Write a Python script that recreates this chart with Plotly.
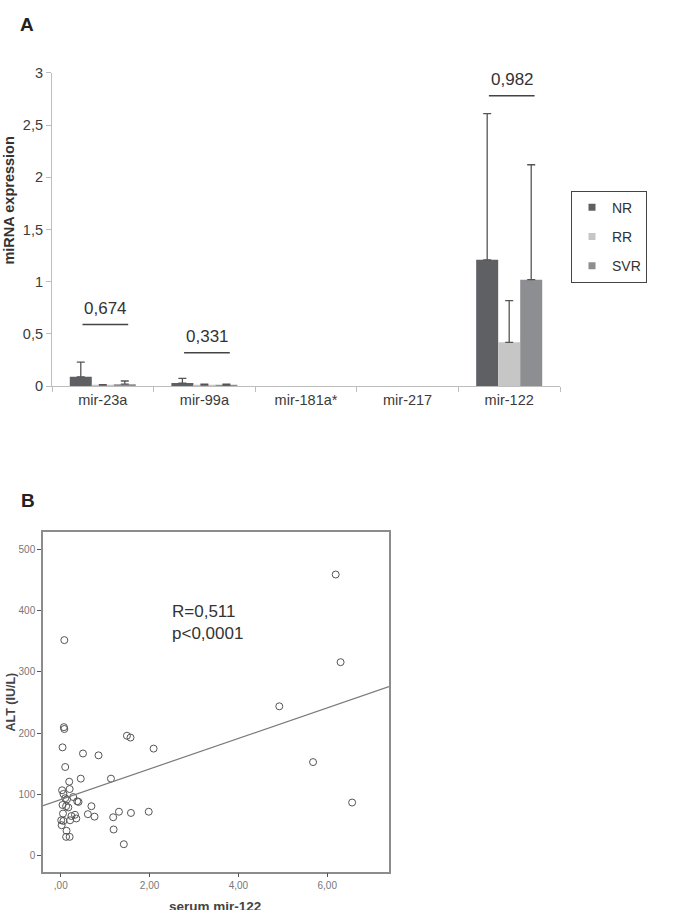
import plotly.graph_objects as go

# ---------------- Panel A data ----------------
categories = ["mir-23a", "mir-99a", "mir-181a*", "mir-217", "mir-122"]
groups = ["NR", "RR", "SVR"]
nr_values = [0.09, 0.03, None, None, 1.21]
rr_values = [0.01, 0.01, None, None, 0.42]
svr_values = [0.02, 0.01, None, None, 1.02]
nr_err = [0.14, 0.045, None, None, 1.40]
rr_err = [0.005, 0.01, None, None, 0.40]
svr_err = [0.03, 0.01, None, None, 1.10]
p_labels = ["0,674", "0,331", None, None, "0,982"]
p_line_heights = [0.59, 0.32, None, None, 2.78]
y_ticks_a = [0, 0.5, 1, 1.5, 2, 2.5, 3]
y_ticktext_a = ["0", "0,5", "1", "1,5", "2", "2,5", "3"]

# ---------------- Panel B data ----------------
serum_mir122 = [0.08, 6.19, 6.30, 4.92, 5.68, 6.56,
                0.07, 0.08, 0.04, 0.10, 0.50, 0.85,
                1.49, 1.57, 2.09, 0.19, 0.45, 1.13,
                0.20, 0.03, 0.06, 0.10, 0.14, 0.28,
                0.37, 0.40, 0.04, 0.12, 0.17, 0.69,
                0.05, 0.24, 0.32, 0.35, 0.21, 0.01, 0.06,
                0.61, 0.76, 1.18, 1.31, 1.58, 1.98,
                1.19, 1.42, 0.02, 0.13, 0.12, 0.20]
alt_values = [352, 459, 316, 244, 153, 87,
              210, 207, 177, 145, 167, 164,
              196, 193, 175, 121, 126, 126,
              109, 107, 101, 94, 92, 96,
              89, 88, 83, 81, 79, 81,
              69, 65, 67, 61, 58, 58, 57,
              68, 64, 63, 72, 70, 72,
              43, 19, 50, 41, 31, 31]
REG_INTERCEPT = 92.0
REG_SLOPE = 24.9
x_ticks_b = [0, 2, 4, 6]
x_ticktext_b = [",00", "2,00", "4,00", "6,00"]
y_ticks_b = [0, 100, 200, 300, 400, 500]
x_range_b = [-0.4, 7.39]
y_range_b = [-25.6, 529]

W, H = 697, 910
FONT = "Liberation Sans, Arial, sans-serif"
colors = {"NR": "#5f6064", "RR": "#c6c6c6", "SVR": "#8d8e91"}
err_color = "#555555"

fig = go.Figure()

series = [("NR", nr_values, nr_err), ("RR", rr_values, rr_err), ("SVR", svr_values, svr_err)]
for name, vals, errs in series:
    fig.add_trace(go.Bar(
        x=categories, y=vals, name=name, legendgroup=name, showlegend=False,
        marker=dict(color=colors[name], line=dict(width=0)),
        error_y=dict(type="data", symmetric=False, array=errs,
                     arrayminus=[0 if e is not None else None for e in errs],
                     color=err_color, thickness=1.3, width=4),
        xaxis="x", yaxis="y",
    ))
    # legend entry with a small square swatch (same series colour)
    fig.add_trace(go.Scatter(
        x=[None], y=[None], mode="markers", name=name, legendgroup=name,
        marker=dict(symbol="square", size=7, color=colors[name]),
        xaxis="x", yaxis="y",
    ))

# significance lines and labels
for i, (lab, h) in enumerate(zip(p_labels, p_line_heights)):
    if lab is None:
        continue
    fig.add_shape(type="line", xref="x", yref="y", x0=i - 0.2, x1=i + 0.25,
                  y0=h, y1=h, line=dict(color="#444444", width=1.5))
    fig.add_annotation(x=i + 0.03, y=h, xref="x", yref="y", text=lab,
                       showarrow=False, xanchor="center", yanchor="bottom", yshift=5,
                       font=dict(family=FONT, size=17, color="#333333"))

# Panel B scatter
fig.add_trace(go.Scatter(
    x=serum_mir122, y=alt_values, mode="markers", showlegend=False,
    marker=dict(symbol="circle-open", size=7, color="#555555", line=dict(width=1)),
    xaxis="x2", yaxis="y2",
))
reg_x = x_range_b
reg_y = [REG_INTERCEPT + REG_SLOPE * xv for xv in reg_x]
fig.add_trace(go.Scatter(
    x=reg_x, y=reg_y, mode="lines", showlegend=False,
    line=dict(color="#7a7a7a", width=1.2), xaxis="x2", yaxis="y2",
))

def px_x(p):
    return p / W

def px_y(p):
    return 1 - p / H

fig.update_layout(
    width=W, height=H,
    margin=dict(l=0, r=0, t=0, b=0),
    paper_bgcolor="white", plot_bgcolor="white",
    font=dict(family=FONT, color="#333333"),
    barmode="group", bargap=0.35, bargroupgap=0,
    xaxis=dict(domain=[px_x(52), px_x(560)], anchor="y",
               type="category", showline=True, linecolor="#bdbdbd", linewidth=1.2,
               ticks="outside", tickson="boundaries", ticklen=5, tickcolor="#bdbdbd",
               tickfont=dict(size=14.5, color="#3a3a3a"), showgrid=False, zeroline=False),
    yaxis=dict(domain=[px_y(385), px_y(66)], anchor="x", range=[0, 3],
               tickvals=y_ticks_a, ticktext=y_ticktext_a,
               showline=True, linecolor="#bdbdbd", linewidth=1.2,
               ticks="outside", ticklen=5, tickcolor="#bdbdbd",
               tickfont=dict(size=14.5, color="#3a3a3a"), showgrid=False, zeroline=False),
    xaxis2=dict(domain=[px_x(43), px_x(389)], anchor="y2", range=x_range_b,
                tickvals=x_ticks_b, ticktext=x_ticktext_b,
                showline=True, mirror=True, linecolor="#8c8c8c", linewidth=1.5,
                ticks="outside", ticklen=4, tickcolor="#555555",
                tickfont=dict(size=10, color="#777777"), showgrid=False, zeroline=False),
    yaxis2=dict(domain=[px_y(879), px_y(533)], anchor="x2", range=y_range_b,
                tickvals=y_ticks_b,
                showline=True, mirror=True, linecolor="#8c8c8c", linewidth=1.5,
                ticks="outside", ticklen=4, tickcolor="#555555",
                tickfont=dict(size=10, color="#777777"), showgrid=False, zeroline=False),
    legend=dict(x=px_x(571), y=px_y(186), xanchor="left", yanchor="top",
                bordercolor="#444444", borderwidth=1, bgcolor="white",
                font=dict(size=14, color="#333333"), itemwidth=30,
                tracegroupgap=8, traceorder="grouped", itemsizing="trace"),
)

# panel letters
fig.add_annotation(x=px_x(27), y=px_y(17), xref="paper", yref="paper", text="<b>A</b>",
                   showarrow=False, xanchor="center", yanchor="middle",
                   font=dict(family=FONT, size=19, color="#222222"))
fig.add_annotation(x=px_x(28), y=px_y(501), xref="paper", yref="paper", text="<b>B</b>",
                   showarrow=False, xanchor="center", yanchor="middle",
                   font=dict(family=FONT, size=19, color="#222222"))
# axis titles
fig.add_annotation(x=px_x(9), y=px_y(196), xref="paper", yref="paper",
                   text="<b>miRNA expression</b>", textangle=-90, showarrow=False,
                   xanchor="center", yanchor="middle",
                   font=dict(family=FONT, size=14.5, color="#333333"))
fig.add_annotation(x=px_x(11), y=px_y(707), xref="paper", yref="paper",
                   text="<b>ALT (IU/L)</b>", textangle=-90, showarrow=False,
                   xanchor="center", yanchor="middle",
                   font=dict(family=FONT, size=12.5, color="#444444"))
fig.add_annotation(x=px_x(215), y=px_y(905), xref="paper", yref="paper",
                   text="<b>serum mir-122</b>", showarrow=False, xanchor="center", yanchor="top",
                   font=dict(family=FONT, size=13.5, color="#444444"))
# correlation text
fig.add_annotation(x=px_x(170), y=px_y(603), xref="paper", yref="paper",
                   text="R=0,511<br>p<0,0001", showarrow=False, xanchor="left",
                   yanchor="top", align="left",
                   font=dict(family=FONT, size=17, color="#333333"))

fig.write_html("out.html", config={"displayModeBar": False},
               post_script="document.body.style.margin='0';")
